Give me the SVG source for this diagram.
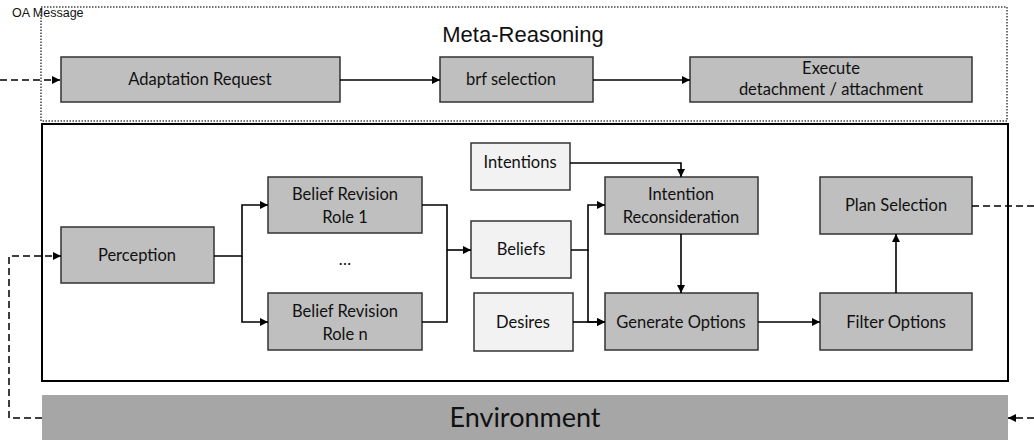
<svg xmlns="http://www.w3.org/2000/svg" width="1034" height="441" viewBox="0 0 1034 441">
  <defs>
    <marker id="arrow" viewBox="0 0 8 8" refX="8" refY="4" markerWidth="8" markerHeight="8" markerUnits="userSpaceOnUse" orient="auto">
      <path d="M0,0 L8,4 L0,8 Z" fill="#000"/>
    </marker>
    <style>
      .dark { fill: #bfbfbf; stroke: #333; stroke-width: 1.5; }
      .light { fill: #f2f2f2; stroke: #333; stroke-width: 1.5; }
      .lbl { font-family: Lato, "Liberation Sans", sans-serif; font-size: 16.5px; fill: #111; text-anchor: middle; }
      .conn { fill: none; stroke: #000; stroke-width: 1.6; }
      .dash { fill: none; stroke: #000; stroke-width: 1.5; stroke-dasharray: 7 4; }
    </style>
  </defs>
  <rect width="1034" height="441" fill="#fff"/>

  <!-- meta-reasoning frame -->
  <g id="meta-frame">
    <rect x="41" y="7" width="966" height="114" fill="none" stroke="#444" stroke-width="1.5" stroke-dasharray="1.5 1.5"/>
    <text x="523" y="42" font-family="Liberation Sans, sans-serif" font-size="22" fill="#111" text-anchor="middle">Meta-Reasoning</text>
    <text x="12" y="17" font-family="Liberation Sans, sans-serif" font-size="12.5" fill="#111">OA Message</text>
  </g>

  <!-- reasoning cycle frame -->
  <g id="cycle-frame">
    <rect x="42" y="124" width="966" height="257" fill="none" stroke="#000" stroke-width="2"/>
  </g>

  <g id="environment">
    <rect x="42" y="395" width="966" height="45" fill="#a6a6a6"/>
    <text x="525" y="427" font-family="Lato, sans-serif" font-size="27" fill="#111" text-anchor="middle">Environment</text>
  </g>

  <g id="adaptation-request">
    <rect class="dark" x="61" y="57" width="279" height="45"/>
    <text class="lbl" x="200" y="85">Adaptation Request</text>
  </g>
  <g id="brf-selection">
    <rect class="dark" x="440" y="57" width="153" height="45"/>
    <text class="lbl" x="511" y="85">brf selection</text>
  </g>
  <g id="execute">
    <rect class="dark" x="690" y="57" width="282" height="45"/>
    <text class="lbl" x="831" y="74">Execute</text>
    <text class="lbl" x="831" y="95">detachment / attachment</text>
  </g>

  <g id="perception">
    <rect class="dark" x="61" y="227" width="153" height="56"/>
    <text class="lbl" x="137" y="261">Perception</text>
  </g>
  <g id="brr-1">
    <rect class="dark" x="268" y="177" width="154" height="56"/>
    <text class="lbl" x="345" y="200">Belief Revision</text>
    <text class="lbl" x="345" y="223">Role 1</text>
  </g>
  <g id="brr-ellipsis">
    <text class="lbl" x="345" y="265">…</text>
  </g>
  <g id="brr-n">
    <rect class="dark" x="268" y="293" width="154" height="57"/>
    <text class="lbl" x="345" y="317">Belief Revision</text>
    <text class="lbl" x="345" y="340">Role n</text>
  </g>

  <g id="intentions">
    <rect class="light" x="471" y="143" width="99" height="47"/>
    <text class="lbl" x="520" y="168">Intentions</text>
  </g>
  <g id="beliefs">
    <rect class="light" x="471" y="221" width="100" height="57"/>
    <text class="lbl" x="521" y="255">Beliefs</text>
  </g>
  <g id="desires">
    <rect class="light" x="474" y="293" width="99" height="58"/>
    <text class="lbl" x="523" y="328">Desires</text>
  </g>

  <g id="intention-reconsideration">
    <rect class="dark" x="605" y="177" width="153" height="57"/>
    <text class="lbl" x="681" y="200">Intention</text>
    <text class="lbl" x="681" y="223">Reconsideration</text>
  </g>
  <g id="generate-options">
    <rect class="dark" x="605" y="293" width="153" height="57"/>
    <text class="lbl" x="681" y="328">Generate Options</text>
  </g>
  <g id="plan-selection">
    <rect class="dark" x="820" y="177" width="152" height="57"/>
    <text class="lbl" x="896" y="211">Plan Selection</text>
  </g>
  <g id="filter-options">
    <rect class="dark" x="820" y="293" width="152" height="57"/>
    <text class="lbl" x="896" y="328">Filter Options</text>
  </g>

  <g id="connectors">
    <!-- meta-reasoning chain -->
    <path class="dash" d="M0,80 H60" marker-end="url(#arrow)"/>
    <path class="conn" d="M340,80 H440" marker-end="url(#arrow)"/>
    <path class="conn" d="M593,80 H690" marker-end="url(#arrow)"/>

    <!-- perception fan-out -->
    <path class="conn" d="M214,256 H242 V205 H268" marker-end="url(#arrow)"/>
    <path class="conn" d="M242,256 V322 H268" marker-end="url(#arrow)"/>

    <!-- belief revision merge -->
    <path class="conn" d="M422,205 H447 V322 H422"/>
    <path class="conn" d="M447,250 H471" marker-end="url(#arrow)"/>

    <!-- beliefs / desires / intentions -->
    <path class="conn" d="M571,250 H588 V205 H605" marker-end="url(#arrow)"/>
    <path class="conn" d="M588,250 V322 H605" marker-end="url(#arrow)"/>
    <path class="conn" d="M573,322 H605" marker-end="url(#arrow)"/>
    <path class="conn" d="M570,163 H681 V177" marker-end="url(#arrow)"/>

    <!-- option pipeline -->
    <path class="conn" d="M681,234 V293" marker-end="url(#arrow)"/>
    <path class="conn" d="M758,322 H820" marker-end="url(#arrow)"/>
    <path class="conn" d="M896,293 V234" marker-end="url(#arrow)"/>

    <!-- environment loop -->
    <path class="dash" d="M972,206 H1034"/>
    <path class="dash" d="M1034,418 H1008" marker-end="url(#arrow)"/>
    <path class="dash" d="M42,418 H9 V256 H61" marker-end="url(#arrow)"/>
  </g>
</svg>
